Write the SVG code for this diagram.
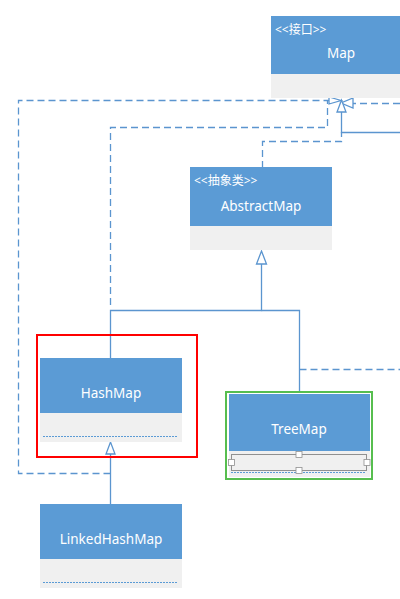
<svg xmlns="http://www.w3.org/2000/svg" width="400" height="599" viewBox="0 0 400 599">
<style>
.hd{fill:#5B9BD5}
.bd{fill:#F0F0F0}
.t{font-family:"Noto Sans","Noto Sans CJK SC",sans-serif;font-size:13.5px;fill:#FFFFFF;text-anchor:middle}
.st{font-family:"Noto Sans","Noto Sans CJK SC",sans-serif;font-size:12px;fill:#FFFFFF}
.ln{fill:none;stroke:#5B95CF;stroke-width:1.3}
.ds{fill:none;stroke:#5B95CF;stroke-width:1.3;stroke-dasharray:7,4}
.ar{fill:#FFFFFF;stroke:#5B95CF;stroke-width:1.3}
.dot{stroke:#5B9BD5;stroke-width:1;stroke-dasharray:2,1}
.hdl{fill:#FFFFFF;stroke:#909090;stroke-width:0.8}
</style>
<rect width="400" height="599" fill="#FFFFFF"/>
<g id="connectors">
<path class="ds" d="M110.5,473.5 H18.5 V100.5 H329"/>
<path class="ds" d="M110.5,305 V127.5 H327.5 V101"/>
<path class="ds" d="M262.5,168 V141.5 H341.5 V132"/>
<path class="ds" d="M400,103.5 H353"/>
<path class="ds" d="M299.5,369.5 H400"/>
<path class="ln" d="M400,132.5 H341.5 V112"/>
<path class="ln" d="M261.5,264 V310.5 H110.5 V358"/>
<path class="ln" d="M261.5,310.5 H299.5 V392"/>
<path class="ln" d="M110.5,454 V504"/>
<polygon class="ar" points="329,97 329,104 341,100.5"/>
<polygon class="ar" points="353,98 353,108 341,103"/>
<polygon class="ar" points="337,112 346,112 341.5,100"/>
<polygon class="ar" points="256.5,264 266.5,264 261.5,251"/>
<polygon class="ar" points="106,454 115,454 110.5,442"/>
</g>
<g id="Map">
<rect class="hd" x="271" y="16" width="140" height="58"/>
<rect class="bd" x="271" y="74" width="140" height="24"/>
<text class="st" x="275" y="34">&lt;&lt;接口&gt;&gt;</text>
<text class="t" x="341" y="58">Map</text>
</g>
<g id="AbstractMap">
<rect class="hd" x="190" y="167" width="142" height="59"/>
<rect class="bd" x="190" y="226" width="142" height="24"/>
<text class="st" x="194" y="185">&lt;&lt;抽象类&gt;&gt;</text>
<text class="t" x="261" y="211">AbstractMap</text>
</g>
<g id="HashMap">
<rect x="37" y="335" width="160" height="122" fill="none" stroke="#FF0000" stroke-width="2"/>
<rect class="hd" x="40" y="358" width="142" height="55"/>
<rect class="bd" x="40" y="413" width="142" height="29"/>
<line class="dot" x1="43" y1="436.5" x2="178" y2="436.5"/>
<text class="t" x="111" y="398">HashMap</text>
</g>
<g id="TreeMap">
<rect x="226" y="392" width="146" height="87" fill="none" stroke="#57BE4F" stroke-width="2"/>
<rect class="hd" x="229" y="394" width="141" height="57"/>
<rect class="bd" x="229" y="451" width="141" height="26"/>
<line class="dot" x1="231" y1="472.5" x2="366" y2="472.5"/>
<rect x="231.5" y="454.5" width="135" height="16" fill="none" stroke="#909090" stroke-width="1"/>
<rect class="hdl" x="228.5" y="459.5" width="6" height="6"/>
<rect class="hdl" x="364" y="459.5" width="6" height="6"/>
<rect class="hdl" x="296" y="451.5" width="6" height="6"/>
<rect class="hdl" x="296" y="467.5" width="6" height="6"/>
<text class="t" x="299" y="434">TreeMap</text>
</g>
<g id="LinkedHashMap">
<rect class="hd" x="40" y="504" width="142" height="55"/>
<rect class="bd" x="40" y="559" width="142" height="29"/>
<line class="dot" x1="43" y1="582.5" x2="178" y2="582.5"/>
<text class="t" x="111" y="544">LinkedHashMap</text>
</g>
</svg>
